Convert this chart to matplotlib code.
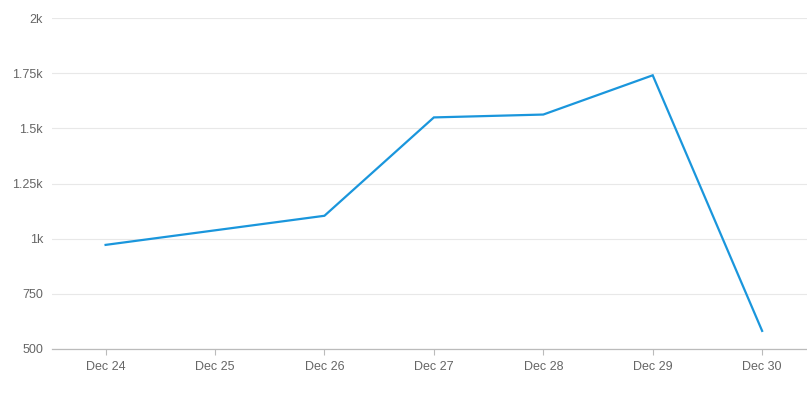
import matplotlib.pyplot as plt

days = ["Dec 24", "Dec 25", "Dec 26", "Dec 27", "Dec 28", "Dec 29", "Dec 30"]
values = [972, 1038, 1104, 1550, 1563, 1741, 582]
y_ticks = [500, 750, 1000, 1250, 1500, 1750, 2000]
y_labels = ["500", "750", "1k", "1.25k", "1.5k", "1.75k", "2k"]

plt.rcParams['font.family'] = ['Liberation Sans', 'DejaVu Sans']

fig = plt.figure(figsize=(8.07, 3.95), dpi=100)
ax = fig.add_axes([0.0644, 0.1165, 0.9356, 0.8375])

x = list(range(len(days)))
ax.plot(x, values, color="#1a96dc", linewidth=1.6, solid_joinstyle="miter")

ax.set_xlim(-0.49, 6.41)
ax.set_ylim(500, 2000)
ax.set_xticks(x)
ax.set_xticklabels(days)
ax.set_yticks(y_ticks)
ax.set_yticklabels(y_labels)

ax.grid(axis="y", color="#e8e8e8", linewidth=0.8)
ax.set_axisbelow(True)
for side in ["top", "right", "left"]:
    ax.spines[side].set_visible(False)
ax.spines["bottom"].set_color("#bbbbbb")
ax.spines["bottom"].set_linewidth(0.9)

ax.tick_params(axis="x", colors="#bbbbbb", length=4, width=0.8, labelcolor="#666666",
               labelsize=9, pad=5)
ax.tick_params(axis="y", length=0, labelcolor="#666666", labelsize=9, pad=6.5)

fig.savefig("out.png", dpi=100)
